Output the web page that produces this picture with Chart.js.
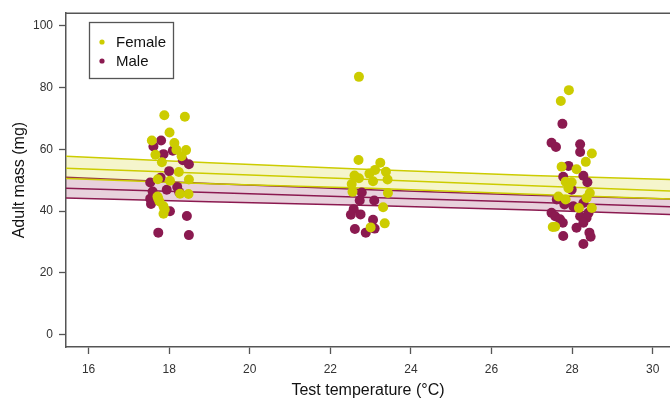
<!DOCTYPE html>
<html>
<head>
<meta charset="utf-8">
<script src="https://cdn.jsdelivr.net/npm/chart.js@4"></script>
<style>
  html, body { margin: 0; padding: 0; background: #fff; }
  #wrap { width: 670px; height: 405px; position: relative; }
</style>
</head>
<body>
<div id="wrap"><canvas id="massChart"></canvas></div>
<script>
// raw points (temperature jittered, mass in mg)
const femaleTemp = [17.88, 18.39, 18.01, 17.57, 18.13, 18.42, 17.66, 18.18, 18.31, 17.82, 18.24, 18.49, 17.72, 18.02, 17.73, 18.27, 18.48, 17.86, 17.89, 17.86, 17.76, 17.71,
                    22.71, 22.70, 23.24, 23.11, 22.97, 23.38, 23.42, 23.06, 22.71, 22.53, 23.43, 22.55, 23.31, 23.00, 23.35, 22.60,
                    27.92, 27.72, 28.49, 28.34, 27.74, 28.11, 27.84, 27.99, 27.91, 28.44, 27.66, 28.36, 27.84, 28.49, 28.17, 27.58, 27.52];
const femaleMass = [71.0, 70.5, 65.4, 62.8, 62.0, 59.7, 58.2, 59.8, 57.7, 55.8, 52.6, 50.2, 50.3, 49.8, 44.0, 45.6, 45.5, 41.5, 40.5, 39.1, 43.1, 44.7,
                    83.4, 56.5, 55.6, 53.3, 52.1, 52.7, 50.2, 49.6, 50.6, 48.7, 45.8, 46.2, 41.2, 34.7, 36.0, 51.5,
                    79.1, 75.6, 58.6, 55.9, 54.3, 53.5, 49.5, 49.3, 47.4, 45.8, 44.7, 44.2, 43.7, 41.0, 41.0, 34.9, 34.8];
const maleTemp = [17.80, 17.61, 18.09, 17.86, 18.34, 18.49, 18.00, 17.79, 17.53, 17.59, 17.94, 18.20, 18.25, 17.53, 17.55, 18.02, 17.73, 18.49, 18.44,
                  22.78, 22.73, 23.09, 22.58, 22.51, 23.06, 22.61, 22.75, 22.88, 23.10,
                  27.76, 27.49, 27.60, 28.20, 28.20, 27.91, 28.28, 27.78, 28.38, 27.99, 27.62, 27.81, 28.03, 28.28, 27.49, 27.58, 27.70, 28.20, 28.41, 28.36, 28.28, 28.11, 27.78, 28.43, 28.46, 28.28, 27.77];
const maleMass = [62.8, 60.9, 59.5, 58.4, 56.4, 55.1, 52.9, 50.8, 49.2, 46.3, 46.9, 47.8, 46.1, 44.0, 42.3, 39.9, 33.0, 32.2, 38.4,
                  46.0, 43.4, 43.4, 40.6, 38.8, 37.2, 34.2, 38.9, 33.0, 34.3,
                  68.2, 62.1, 60.7, 61.6, 59.1, 54.6, 51.4, 51.1, 49.3, 46.9, 43.7, 42.1, 41.5, 42.6, 39.4, 38.3, 37.3, 38.3, 39.4, 37.8, 36.2, 34.6, 31.9, 33.0, 31.7, 29.3, 36.2];

// fitted lines + confidence bands, read at a few temperatures
const fitTemp     = [15.44, 19, 23, 27, 30.43];
const femaleFit   = [53.8, 52.1, 50.2, 48.2, 46.5];
const femaleUpper = [57.7, 55.6, 53.4, 51.5, 50.2];
const femaleLower = [50.5, 48.8, 47.4, 45.4, 43.9];
const maleFit     = [47.4, 46.0, 44.4, 42.8, 41.4];
const maleUpper   = [50.9, 48.9, 46.9, 45.1, 43.9];
const maleLower   = [44.2, 43.0, 41.8, 40.3, 38.9];

const xTicks = [16, 18, 20, 22, 24, 26, 28, 30];
const yTicks = [0, 20, 40, 60, 80, 100];

const yellow = 'rgb(204,204,0)';
const maroon = 'rgb(139,26,80)';

const pts = (xs, ys) => xs.map((x, i) => ({ x: x, y: ys[i] }));

function lineSet(label, ys, color, fill, bg) {
    return {
        type: 'line', label: label, data: pts(fitTemp, ys),
        borderColor: color, borderWidth: 1.5, pointRadius: 0,
        fill: fill, backgroundColor: bg, order: 2
    };
}

// R-style legend box and top border
const extras = {
    id: 'extras',
    afterDraw(chart) {
        const c = chart.ctx, a = chart.chartArea;
        c.save();
        c.strokeStyle = '#555';
        c.lineWidth = 1.5;
        c.beginPath();
        c.moveTo(a.left, a.top);
        c.lineTo(a.right, a.top);
        c.stroke();

        c.lineWidth = 1.3;
        c.strokeRect(89.5, 22.5, 84, 56);
        const items = chart.data.datasets.filter(d => d.type === 'scatter');
        items.forEach((d, i) => {
            const y = 42 + i * 19;
            c.fillStyle = d.backgroundColor;
            c.beginPath();
            c.arc(102, y, 2.6, 0, Math.PI * 2);
            c.fill();
            c.fillStyle = '#111';
            c.font = '15px "Liberation Sans", Arial, sans-serif';
            c.textBaseline = 'middle';
            c.fillText(d.label, 116, y + 1);
        });
        c.restore();
    }
};

const ctx = document.getElementById('massChart').getContext('2d');
new Chart(ctx, {
    data: {
        datasets: [
            { type: 'scatter', label: 'Female', data: pts(femaleTemp, femaleMass), backgroundColor: yellow, borderWidth: 0, pointRadius: 5, order: 0 },
            { type: 'scatter', label: 'Male', data: pts(maleTemp, maleMass), backgroundColor: maroon, borderWidth: 0, pointRadius: 5, order: 0 },
            lineSet('fU', femaleUpper, yellow, false),
            lineSet('fL', femaleLower, yellow, 2, 'rgba(204,204,0,0.2)'),
            lineSet('fF', femaleFit, yellow, false),
            lineSet('mU', maleUpper, maroon, false),
            lineSet('mL', maleLower, maroon, 5, 'rgba(139,26,80,0.2)'),
            lineSet('mF', maleFit, maroon, false)
        ]
    },
    options: {
        responsive: true,
        maintainAspectRatio: false,
        animation: false,
        layout: { autoPadding: false, padding: { top: 8, right: 0, left: 0, bottom: 0 } },
        plugins: {
            legend: { display: false },
            tooltip: { enabled: false }
        },
        scales: {
            x: {
                type: 'linear', min: 15.44, max: 30.43,
                afterFit: (s) => { s.height = 58; },
                afterBuildTicks: (s) => { s.ticks = xTicks.map(v => ({ value: v })); },
                grid: { drawOnChartArea: false, tickLength: 7, tickColor: '#555', tickWidth: 1.3 },
                border: { display: true, color: '#555', width: 1.5 },
                ticks: { color: '#333', padding: 8, font: { size: 12, family: '"Liberation Sans", Arial, sans-serif' } },
                title: { display: true, text: 'Test temperature (°C)', color: '#111', padding: { top: 0, bottom: 5 },
                         font: { size: 16, family: '"Liberation Sans", Arial, sans-serif' } }
            },
            y: {
                type: 'linear', min: -4, max: 104,
                afterFit: (s) => { s.width = 66; },
                afterBuildTicks: (s) => { s.ticks = yTicks.map(v => ({ value: v })); },
                grid: { drawOnChartArea: false, tickLength: 7, tickColor: '#555', tickWidth: 1.3 },
                border: { display: true, color: '#555', width: 1.5 },
                ticks: { color: '#333', padding: 6, font: { size: 12, family: '"Liberation Sans", Arial, sans-serif' } },
                title: { display: true, text: 'Adult mass (mg)', color: '#111', padding: { top: 10, bottom: 0 },
                         font: { size: 16, family: '"Liberation Sans", Arial, sans-serif' } }
            }
        }
    },
    plugins: [extras]
});
</script>
</body>
</html>
